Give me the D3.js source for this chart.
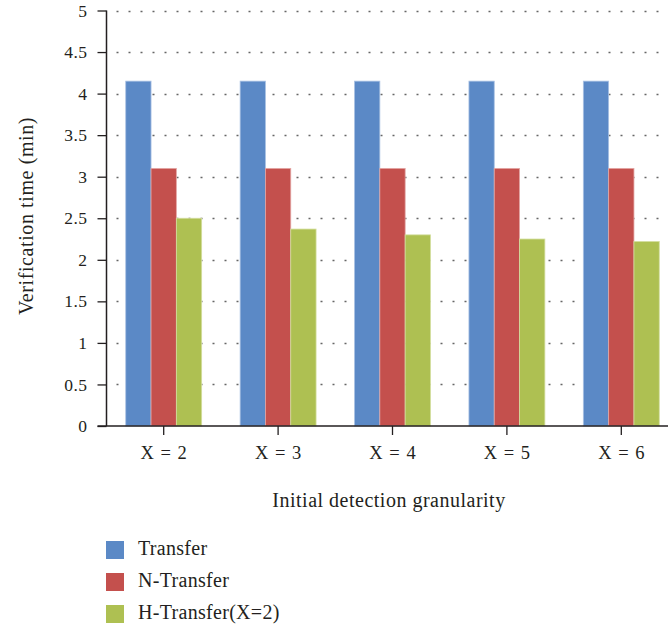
<!DOCTYPE html>
<html>
<head>
<meta charset="utf-8">
<script src="https://cdn.jsdelivr.net/npm/d3@7"></script>
<style>
  html, body { margin: 0; padding: 0; background: #fff; }
  svg { display: block; }
  text { font-family: "Liberation Serif", "DejaVu Serif", serif; fill: #231f20; }
</style>
</head>
<body>
<svg id="chart" width="668" height="628"></svg>
<script>
// Verification time per initial detection granularity
const categories = ["X = 2", "X = 3", "X = 4", "X = 5", "X = 6"];
const seriesNames = ["Transfer", "N-Transfer", "H-Transfer(X=2)"];
const transfer  = [4.15, 4.15, 4.15, 4.15, 4.15];
const nTransfer = [3.1, 3.1, 3.1, 3.1, 3.1];
const hTransfer = [2.5, 2.37, 2.3, 2.25, 2.22];
const yTicks = [0, 0.5, 1, 1.5, 2, 2.5, 3, 3.5, 4, 4.5, 5];
const colors = ["#5b89c6", "#c4504d", "#aec052"];
const edgeColors = ["#a9c1e3", "#e3a6a4", "#d3de9e"];

const seriesValues = [transfer, nTransfer, hTransfer];

const svg = d3.select("#chart");
const plotLeft = 106.5, plotTop = 10.5, plotBottom = 426, plotRight = 678.5;

const x = d3.scaleBand().domain(categories).range([plotLeft, plotRight]).paddingInner(0).paddingOuter(0);
const inner = d3.scaleBand().domain(seriesNames).range([0, x.bandwidth()]).paddingOuter(0.76).paddingInner(0);
const y = d3.scaleLinear().domain([0, 5]).range([plotBottom, plotTop]);

// dotted horizontal grid
svg.append("g")
  .selectAll("line")
  .data(yTicks.filter(d => d > 0))
  .join("line")
  .attr("x1", plotLeft + 1).attr("x2", 668)
  .attr("y1", d => Math.round(y(d)) + 0.5).attr("y2", d => Math.round(y(d)) + 0.5)
  .attr("stroke", "#666")
  .attr("stroke-width", 1.5)
  .attr("stroke-dasharray", "2,10")
  .attr("stroke-dashoffset", -9);

// bars
const groups = svg.append("g")
  .selectAll("g")
  .data(categories)
  .join("g")
  .attr("transform", d => `translate(${x(d)},0)`);

groups.selectAll("rect")
  .data((d, i) => seriesNames.map((s, j) => ({ s, j, v: seriesValues[j][i] })))
  .join("rect")
  .attr("x", d => inner(d.s))
  .attr("width", inner.bandwidth())
  .attr("y", d => y(d.v))
  .attr("height", d => y(0) - y(d.v))
  .attr("fill", d => colors[d.j])
  .attr("stroke", d => edgeColors[d.j])
  .attr("stroke-width", 0.8);

// y axis
const yAxis = svg.append("g")
  .attr("transform", `translate(${plotLeft},0)`)
  .call(d3.axisLeft(y).tickValues(yTicks).tickFormat(d3.format("")).tickSize(9).tickPadding(10));
yAxis.select(".domain").attr("stroke", "#231f20").attr("stroke-width", 1.5)
  .attr("d", `M0,${plotTop}V${plotBottom}`);
yAxis.selectAll(".tick line").attr("stroke", "#231f20").attr("stroke-width", 1.3);
yAxis.selectAll(".tick text").style("font-size", "17.5px").attr("fill", "#231f20")
  .style("font-family", "'Liberation Serif', serif").style("letter-spacing", "0.5px");

// x axis
const xAxis = svg.append("g")
  .attr("transform", `translate(0,${plotBottom})`)
  .call(d3.axisBottom(x).tickSize(9).tickPadding(8));
xAxis.select(".domain").attr("stroke", "#231f20").attr("stroke-width", 1.5)
  .attr("d", `M${plotLeft - 9},0H668`);
xAxis.selectAll(".tick line").attr("stroke", "#231f20").attr("stroke-width", 1.3);
xAxis.selectAll(".tick text").style("font-size", "18.5px").attr("fill", "#231f20")
  .style("font-family", "'Liberation Serif', serif")
  .style("word-spacing", "2px")
  .attr("y", 33).attr("dy", 0);

// axis titles
svg.append("text")
  .attr("x", 389).attr("y", 507)
  .attr("text-anchor", "middle")
  .style("font-size", "20px")
  .style("letter-spacing", "0.5px")
  .text("Initial detection granularity");

svg.append("text")
  .attr("transform", "translate(33,216) rotate(-90)")
  .attr("text-anchor", "middle")
  .style("font-size", "20px")
  .style("letter-spacing", "0.6px")
  .text("Verification time (min)");

// legend
const legend = svg.append("g")
  .selectAll("g")
  .data(seriesNames)
  .join("g")
  .attr("transform", (d, i) => `translate(106,${541 + i * 32})`);
legend.append("rect")
  .attr("width", 18).attr("height", 18)
  .attr("fill", (d, i) => colors[i]);
legend.append("text")
  .attr("x", 32).attr("y", 14)
  .style("font-size", "20px")
  .style("letter-spacing", "0.3px")
  .text(d => d);
</script>
</body>
</html>
